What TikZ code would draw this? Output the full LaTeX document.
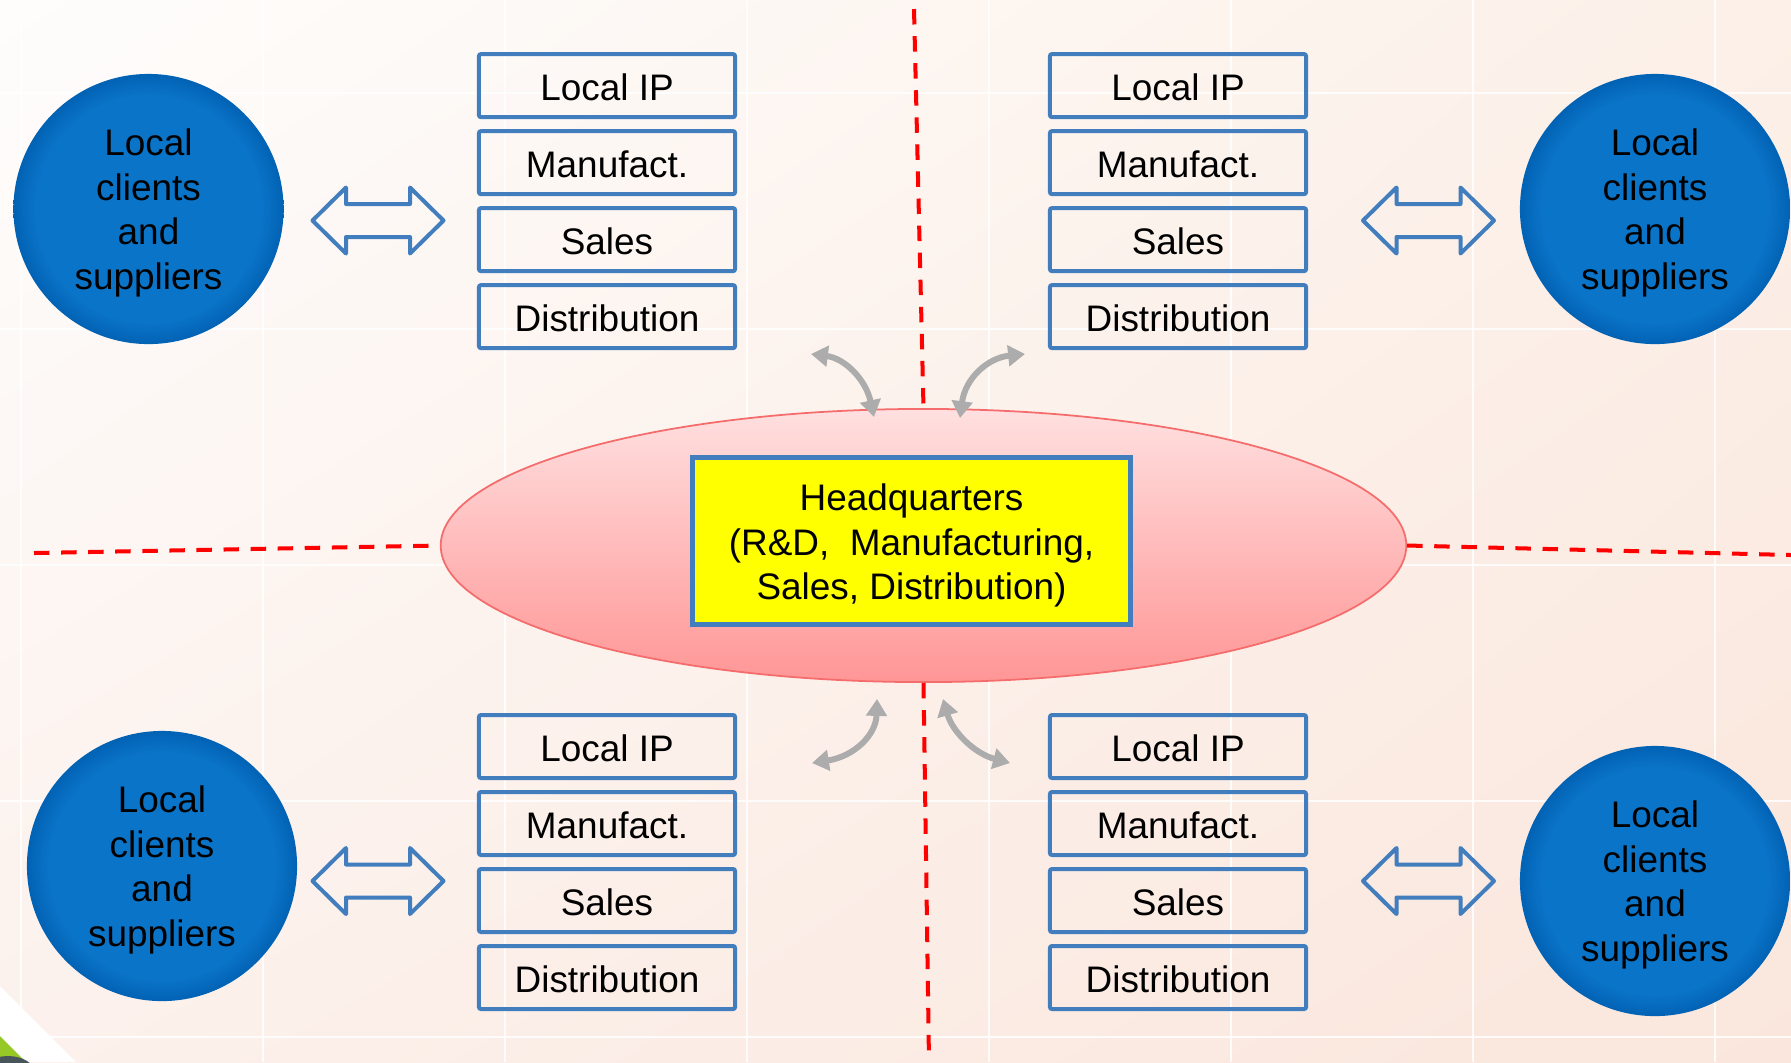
\documentclass[tikz,border=0pt]{standalone}
\usepackage{fontspec}
\setmainfont{Liberation Sans}
\usetikzlibrary{shapes.geometric,arrows.meta,shadings}

\definecolor{boxblue}{RGB}{66,126,189}
\definecolor{ballblue}{RGB}{10,116,200}
\definecolor{balledge}{RGB}{2,98,180}
\definecolor{dashred}{RGB}{255,0,0}
\definecolor{linkgray}{RGB}{172,172,172}
\definecolor{ellipsetop}{RGB}{255,224,224}
\definecolor{ellipsebot}{RGB}{255,150,150}
\definecolor{ellipseline}{RGB}{245,108,108}
\definecolor{hqyellow}{RGB}{255,255,0}
\definecolor{bgUL}{RGB}{254,253,252}
\definecolor{bgUR}{RGB}{252,240,232}
\definecolor{bgLL}{RGB}{252,241,236}
\definecolor{bgLR}{RGB}{250,230,220}
\definecolor{leafgreen}{RGB}{150,200,40}
\definecolor{slate}{RGB}{72,86,92}

% blue discs: flat centre, slightly darker rim
\pgfdeclareradialshading{discshade}{\pgfpoint{0bp}{0bp}}{%
  color(0bp)=(ballblue); color(21bp)=(ballblue);
  color(25bp)=(balledge); color(50bp)=(balledge)}

% centred lines of text, set a little lower than the box they are measured by
\newcommand\liftedlines[2]{%
  \raisebox{#1}[\height][\depth]{\begin{tabular}{@{}c@{}}#2\end{tabular}}}

\tikzset{
  unitbox/.style={draw=boxblue, line width=1.14pt, rounded corners=0.6pt,
    minimum width=2.56cm, minimum height=0.63cm, inner sep=0pt, text=black,
    text height=8.5pt},
  disc/.style={circle, shading=discshade, minimum size=2.70cm, inner sep=0pt,
    text=black},
  hqbox/.style={draw=boxblue, fill=hqyellow, line width=1.42pt,
    minimum width=4.38cm, minimum height=1.66cm, inner sep=0pt},
  hub/.style={ellipse, draw=ellipseline, line width=0.5pt,
    top color=ellipsetop, bottom color=ellipsebot,
    minimum width=9.65cm, minimum height=2.73cm, inner sep=0pt},
  border/.style={dashred, line width=1.14pt, dash pattern=on 4.4pt off 3.3pt},
  link/.style={linkgray, line width=1.7pt,
    {Triangle[length=4.8pt,width=5.8pt]}-{Triangle[length=4.8pt,width=5.8pt]}},
  gridline/.style={white, line width=0.75pt, opacity=0.85},
  exchange/.style={draw=boxblue, line width=1.14pt, line join=round},
  dblarrow/.pic={
    \draw[exchange] (-65.5,0) -- (-32,-33) -- (-32,-16.5) -- (32,-16.5)
      -- (32,-33) -- (65.5,0) -- (32,33) -- (32,16.5) -- (-32,16.5)
      -- (-32,33) -- cycle;}
}

\begin{document}
\begin{tikzpicture}[x=0.01cm, y=-0.01cm, font=\fontsize{10.5}{12.7}\selectfont]
  \useasboundingbox (0,0) rectangle (1791,1062);
  % background
  \shade[upper left=bgUL, upper right=bgUR, lower left=bgLL, lower right=bgLR]
    (0,0) rectangle (1791,1062);
  \foreach \gx in {21,263,505,747,989,1231,1473,1715}
    \draw[gridline] (\gx,0) -- (\gx,1062);
  \foreach \gy in {93,329,565,801,1037}
    \draw[gridline] (0,\gy) -- (1791,\gy);
  % corner ornament
  \begin{scope}
    \clip (0,0) rectangle (1791,1062);
    \fill[white] (0,986) -- (76,1062) -- (0,1062) -- cycle;
    \fill[leafgreen] (0,1036) -- (26,1062) -- (0,1062) -- cycle;
    \fill[slate] (8,1073) ellipse [x radius=27, y radius=17];
  \end{scope}

  % central hub and the dashed region borders
  \node[hub] (hub) at (923.5,545.5) {};
  \coordinate (topend) at (914,9);
  \coordinate (botend) at (929,1062);
  \coordinate (leftend) at (34,553);
  \coordinate (rightend) at (1791,555);
  \draw[border] (topend) -- (hub.north);
  \draw[border] (hub.south) -- (botend);
  \draw[border] (leftend) -- (hub.west);
  \draw[border] (hub.east) -- (rightend);
  \node[hqbox] (hq) at (911.5,541)
    {\liftedlines{-1.5pt}{Headquarters\\(R\&D,\ \ Manufacturing,\\Sales, Distribution)}};

  % regional function stacks
  \foreach \col/\cx in {l/607, r/1178}{
    \foreach \row/\cy in {t/85.6, b/746.5}{
      \node[unitbox] (\col\row1) at (\cx,\cy) {Local IP};
      \node[unitbox] (\col\row2) at (\cx,\cy+77) {Manufact.};
      \node[unitbox] (\col\row3) at (\cx,\cy+154) {Sales};
      \node[unitbox] (\col\row4) at (\cx,\cy+231) {Distribution};
    }
  }

  % local clients and suppliers
  \foreach \nm/\px/\py in {ctl/148.5/209, ctr/1655/209, cbl/162/866, cbr/1655/881}
    \node[disc] (\nm) at (\px,\py)
      {\liftedlines{-1.3pt}{Local\\clients\\and\\suppliers}};

  % two-way exchange arrows
  \pic at (378,220.5) {dblarrow};
  \pic at (1428.5,220.5) {dblarrow};
  \pic at (378,881) {dblarrow};
  \pic at (1428.5,881) {dblarrow};

  % links between headquarters and regions
  \coordinate (a1) at (811,354);  \coordinate (a2) at (874,417);
  \coordinate (b1) at (1025,354); \coordinate (b2) at (960,418);
  \coordinate (c1) at (877,699);  \coordinate (c2) at (812,763);
  \coordinate (d1) at (943,699);  \coordinate (d2) at (1010,763);
  \draw[link] (a1) .. controls (844.7,358.3) and (865.7,379.3) .. (a2);
  \draw[link] (b1) .. controls (986.7,358) and (965,379.3) .. (b2);
  \draw[link] (c1) .. controls (876,735) and (854.3,756.3) .. (c2);
  \draw[link] (d1) .. controls (952.7,732.3) and (975,753.7) .. (d2);
\end{tikzpicture}
\end{document}
